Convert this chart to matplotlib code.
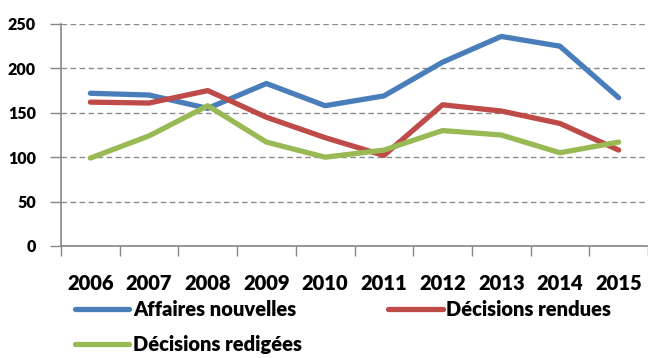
import matplotlib.pyplot as plt
from matplotlib.lines import Line2D

years = ["2006", "2007", "2008", "2009", "2010",
         "2011", "2012", "2013", "2014", "2015"]
affaires_nouvelles = [172, 170, 155, 183, 158, 169, 207, 236, 225, 167]
decisions_rendues = [162, 161, 175, 145, 122, 102, 159, 152, 138, 108]
decisions_redigees = [99, 124, 158, 117, 100, 108, 130, 125, 105, 117]
y_ticks = [0, 50, 100, 150, 200, 250]


def main():
    plt.rcParams["font.family"] = ["Lato", "DejaVu Sans"]
    plt.rcParams["font.weight"] = "heavy"

    fig = plt.figure(figsize=(6.48, 3.58), dpi=100)
    ax = fig.add_axes([61 / 648, 1 - 246 / 358, 1 - 61 / 648, 222 / 358])

    x = [i + 0.5 for i in range(len(years))]
    style = dict(lw=3.8, solid_capstyle="round", solid_joinstyle="round")
    ax.plot(x, affaires_nouvelles, color="#4A7EBB", **style)
    ax.plot(x, decisions_rendues, color="#BE4B48", **style)
    ax.plot(x, decisions_redigees, color="#98B954", **style)

    ax.set_xlim(0, len(years))
    ax.set_ylim(0, 250)
    ax.set_yticks(y_ticks)
    ax.set_yticklabels([str(v) for v in y_ticks], fontsize=11.5,
                       fontweight="heavy")
    ax.set_xticks(range(len(years) + 1))
    ax.set_xticklabels([])
    ax.set_xticks(x, minor=True)
    ax.set_xticklabels(years, minor=True, fontsize=14.5, fontweight="heavy")
    ax.tick_params(axis="x", which="major", length=7, color="#868686",
                   direction="out", width=1)
    ax.tick_params(axis="x", which="minor", length=0, pad=20)
    ax.tick_params(axis="y", length=8, color="#868686", width=1, pad=10)

    ax.grid(axis="y", color="#8c8c8c", linestyle=(0, (4, 2.5)), lw=1)
    ax.set_axisbelow(True)
    for s in ["top", "right"]:
        ax.spines[s].set_visible(False)
    for s in ["left", "bottom"]:
        ax.spines[s].set_color("#868686")
        ax.spines[s].set_linewidth(1.2)

    # ncol=2 fills column by column, so order is col1 top, col1 bottom, col2
    handles = [Line2D([], [], color=c, lw=3.8, solid_capstyle="round")
               for c in ["#4A7EBB", "#98B954", "#BE4B48"]]
    labels = ["Affaires nouvelles", "Décisions redigées", "Décisions rendues"]
    fig.legend(handles, labels, ncol=2, loc="upper left",
               bbox_to_anchor=(75 / 648, 1 - 300 / 358), frameon=False,
               prop={"size": 14.5, "weight": "heavy"}, handlelength=2.7,
               handletextpad=0.17, columnspacing=4.3, labelspacing=0.78,
               borderpad=0, borderaxespad=0)

    fig.savefig("out.png", dpi=100)


if __name__ == "__main__":
    main()
